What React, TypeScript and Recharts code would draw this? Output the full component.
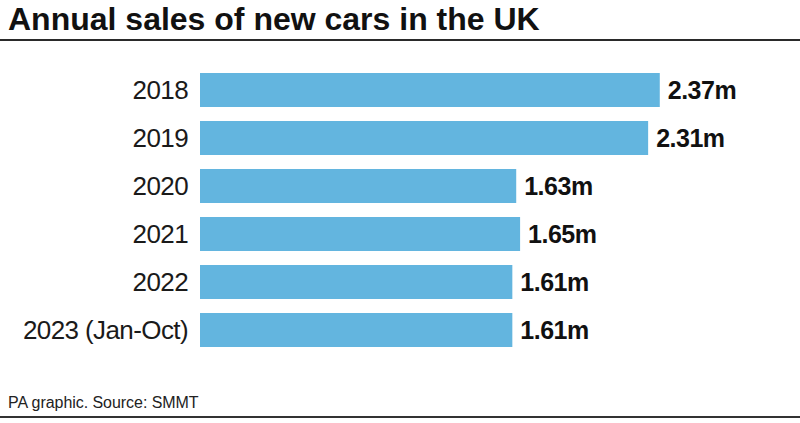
import { Bar, BarChart, LabelList, XAxis, YAxis } from 'recharts';

if (typeof document !== 'undefined') document.body.style.margin = '0';

const years = ['2018', '2019', '2020', '2021', '2022', '2023 (Jan-Oct)'];
const salesMillions = [2.37, 2.31, 1.63, 1.65, 1.61, 1.61];

const data = years.map((year, i) => ({ year, sales: salesMillions[i] }));

const font = '"Liberation Sans", Arial, Helvetica, sans-serif';
const barColor = '#63b5df';

export default function App() {
  return (
    <div
      style={{
        position: 'relative',
        width: 800,
        height: 423,
        background: '#ffffff',
        fontFamily: font,
        overflow: 'hidden',
      }}
    >
      <div
        style={{
          position: 'absolute',
          left: 8,
          top: 1,
          fontSize: 32,
          fontWeight: 700,
          color: '#111111',
          lineHeight: '36px',
          whiteSpace: 'nowrap',
        }}
      >
        Annual sales of new cars in the UK
      </div>
      <div
        style={{
          position: 'absolute',
          left: 0,
          top: 39,
          width: 800,
          height: 2,
          background: '#2a2a2a',
        }}
      />

      <BarChart
        width={800}
        height={423}
        data={data}
        layout="vertical"
        margin={{ top: 66, right: 18, bottom: 69, left: 0 }}
        barSize={34}
      >
        <XAxis type="number" domain={[0, 3]} hide />
        <YAxis
          type="category"
          dataKey="year"
          width={200}
          axisLine={false}
          tickLine={false}
          tickMargin={6}
          tick={{ fill: '#1a1a1a', fontSize: 26, fontFamily: font, letterSpacing: -0.6 }}
        />
        <Bar dataKey="sales" fill={barColor} isAnimationActive={false}>
          <LabelList
            dataKey="sales"
            position="right"
            offset={8}
            formatter={(v: any) => `${v}m`}
            style={{
              fill: '#111111',
              fontSize: 25,
              fontWeight: 700,
              fontFamily: font,
              letterSpacing: -0.5,
            }}
          />
        </Bar>
      </BarChart>

      <div
        style={{
          position: 'absolute',
          left: 8,
          top: 393,
          fontSize: 16,
          letterSpacing: -0.05,
          color: '#222222',
          lineHeight: '20px',
          whiteSpace: 'nowrap',
        }}
      >
        PA graphic. Source: SMMT
      </div>
      <div
        style={{
          position: 'absolute',
          left: 0,
          top: 416,
          width: 800,
          height: 2,
          background: '#333333',
        }}
      />
    </div>
  );
}
